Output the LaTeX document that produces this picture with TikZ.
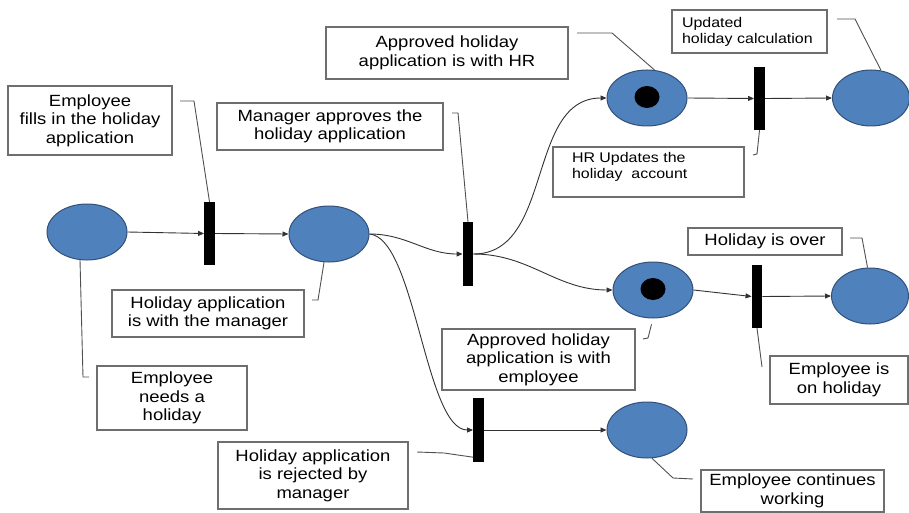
\documentclass[tikz,border=0pt]{standalone}
\usepackage{fontspec}
\setmainfont{Liberation Sans}[FakeStretch=1.14]
\usetikzlibrary{shapes.geometric,arrows.meta,calc}

\definecolor{placefill}{RGB}{79,129,189}
\definecolor{placeedge}{RGB}{50,80,120}
\definecolor{boxedge}{RGB}{110,110,110}
\definecolor{arcgray}{RGB}{50,50,50}
\definecolor{leadgray}{RGB}{80,80,80}

\begin{document}
\begin{tikzpicture}[x=1pt,y=-1pt,
  place/.style={ellipse, draw=placeedge, fill=placefill, line width=1pt,
    minimum width=80pt, minimum height=56pt, inner sep=0pt},
  token/.style={ellipse, fill=black, minimum width=25pt, minimum height=22pt, inner sep=0pt},
  bar/.style={rectangle, fill=black, minimum width=10.5pt, minimum height=63pt, inner sep=0pt},
  note/.style={rectangle, draw=boxedge, fill=white, line width=1.1pt, inner sep=0pt,
    align=center, font=\fontsize{16.2}{18.6}\selectfont},
  smallnote/.style={rectangle, draw=boxedge, fill=white, line width=1.1pt,
    align=left, font=\fontsize{14}{16}\selectfont},
  arc/.style={draw=arcgray, line width=0.9pt, -{Triangle[length=6pt,width=5pt]}},
  leader/.style={draw=leadgray, line width=0.9pt},
]
\useasboundingbox (0,0) rectangle (909,513);

% places
\node[place] (p1) at (87,232) {};
\node[place] (p2) at (329,234) {};
\node[place] (p3) at (647,98) {};
\node[token] (k3) at (647,97) {};
\node[place, minimum width=77pt] (p4) at (871,98) {};
\node[place] (p5) at (653,290) {};
\node[token] (k5) at (653,289) {};
\node[place, minimum width=77pt] (p6) at (870,296) {};
\node[place] (p7) at (647,430) {};

% transitions
\node[bar] (t1) at (209.5,233.5) {};
\node[bar, minimum height=64pt] (t2) at (468,254) {};
\node[bar] (t3) at (759.5,98.5) {};
\node[bar] (t4) at (757,296.5) {};
\node[bar, minimum height=64pt] (t5) at (478.5,430) {};

% arcs
\draw[arc] (p1.east) -- (t1.west);
\draw[arc] (t1.east) -- (p2.west);
\draw[arc] (p2.east) to[out=0,in=180] (t2.west);
\draw[arc] (t2.east) to[out=0,in=180] (p3.west);
\draw[arc] (t2.east) to[out=0,in=180] (p5.west);
\draw[arc] (p2.east) .. controls +(46,4) and +(-48,0) .. (t5.west);
\draw[arc] (p3.east) -- (t3.west);
\draw[arc] (t3.east) -- (p4.west);
\draw[arc] (p5.east) -- (t4.west);
\draw[arc] (t4.east) -- (p6.west);
\draw[arc] (t5.east) -- (p7.west);

% labels
\node[note, minimum width=164pt, minimum height=69pt] (b1) at (90,120.5)
  {Employee\\fills in the holiday\\application};
\node[note, minimum width=226pt, minimum height=47pt] (b2) at (330,126.5)
  {Manager approves the\\holiday application};
\node[note, minimum width=242pt, minimum height=52pt] (b3) at (447,53)
  {Approved holiday\\application is with HR};
\node[smallnote, inner xsep=10pt, inner ysep=0pt, text width=135pt, minimum height=43pt] (b4) at (749.5,31.5)
  {Updated\\holiday calculation};
\node[smallnote, inner xsep=19pt, inner ysep=5pt] (b5) at (648.5,172)
  {\parbox[c][40pt][t]{153pt}{\raggedright HR Updates the\\holiday\ \ account}};
\node[note, minimum width=192pt, minimum height=47pt] (b6) at (208,313.5)
  {Holiday application\\is with the manager};
\node[note, minimum width=150pt, minimum height=64pt] (b7) at (172,398)
  {Employee\\needs a\\holiday};
\node[note, minimum width=193pt, minimum height=61pt] (b8) at (538.5,359.5)
  {Approved holiday\\application is with\\employee};
\node[note, minimum width=154pt, minimum height=27pt] (b9) at (765,241.5)
  {Holiday is over};
\node[note, minimum width=138pt, minimum height=48pt] (b10) at (839,380)
  {Employee is\\on holiday};
\node[note, minimum width=190pt, minimum height=67pt] (b11) at (313,475.5)
  {Holiday application\\is rejected by\\manager};
\node[note, minimum width=183pt, minimum height=42pt] (b12) at (792.5,491)
  {Employee continues\\working};

% leader lines from the labels
\coordinate (l1) at (180,101);
\coordinate (l2) at (452,113);
\coordinate (l3) at (577,33);
\coordinate (l4) at (837,19);
\coordinate (l5) at (753,155);
\coordinate (l6) at (312,300);
\coordinate (l7) at (89,377);
\coordinate (l8) at (643,339);
\coordinate (l9) at (850,238);
\coordinate (l10) at (762,367);
\coordinate (l11) at (417,452);
\coordinate (l12) at (693,479);

\draw[leader] (l1) -- (194,101) -- (t1.north);
\draw[leader] (l2) -- (458,113) -- (t2.north);
\draw[leader] (l3) -- (612,33) -- (p3.75);
\draw[leader] (l4) -- (855,19) -- (p4.70);
\draw[leader] (l5) -- (757,154) -- (t3.south);
\draw[leader] (l6) -- (318,300) -- (p2.-100);
\draw[leader] (p1.-104) -- (83,377) -- (l7);
\draw[leader, shorten >=6pt] (l8) -- (648,338) -- (p5.-90);
\draw[leader] (l9) -- (862,238) -- (p6.95);
\draw[leader] (t4.south) -- (l10);
\draw[leader] (l11) -- (444,453) -- ($(t5.south west)+(0,-5)$);
\draw[leader] (p7.-80) -- (673,478) -- (l12);
\end{tikzpicture}
\end{document}
